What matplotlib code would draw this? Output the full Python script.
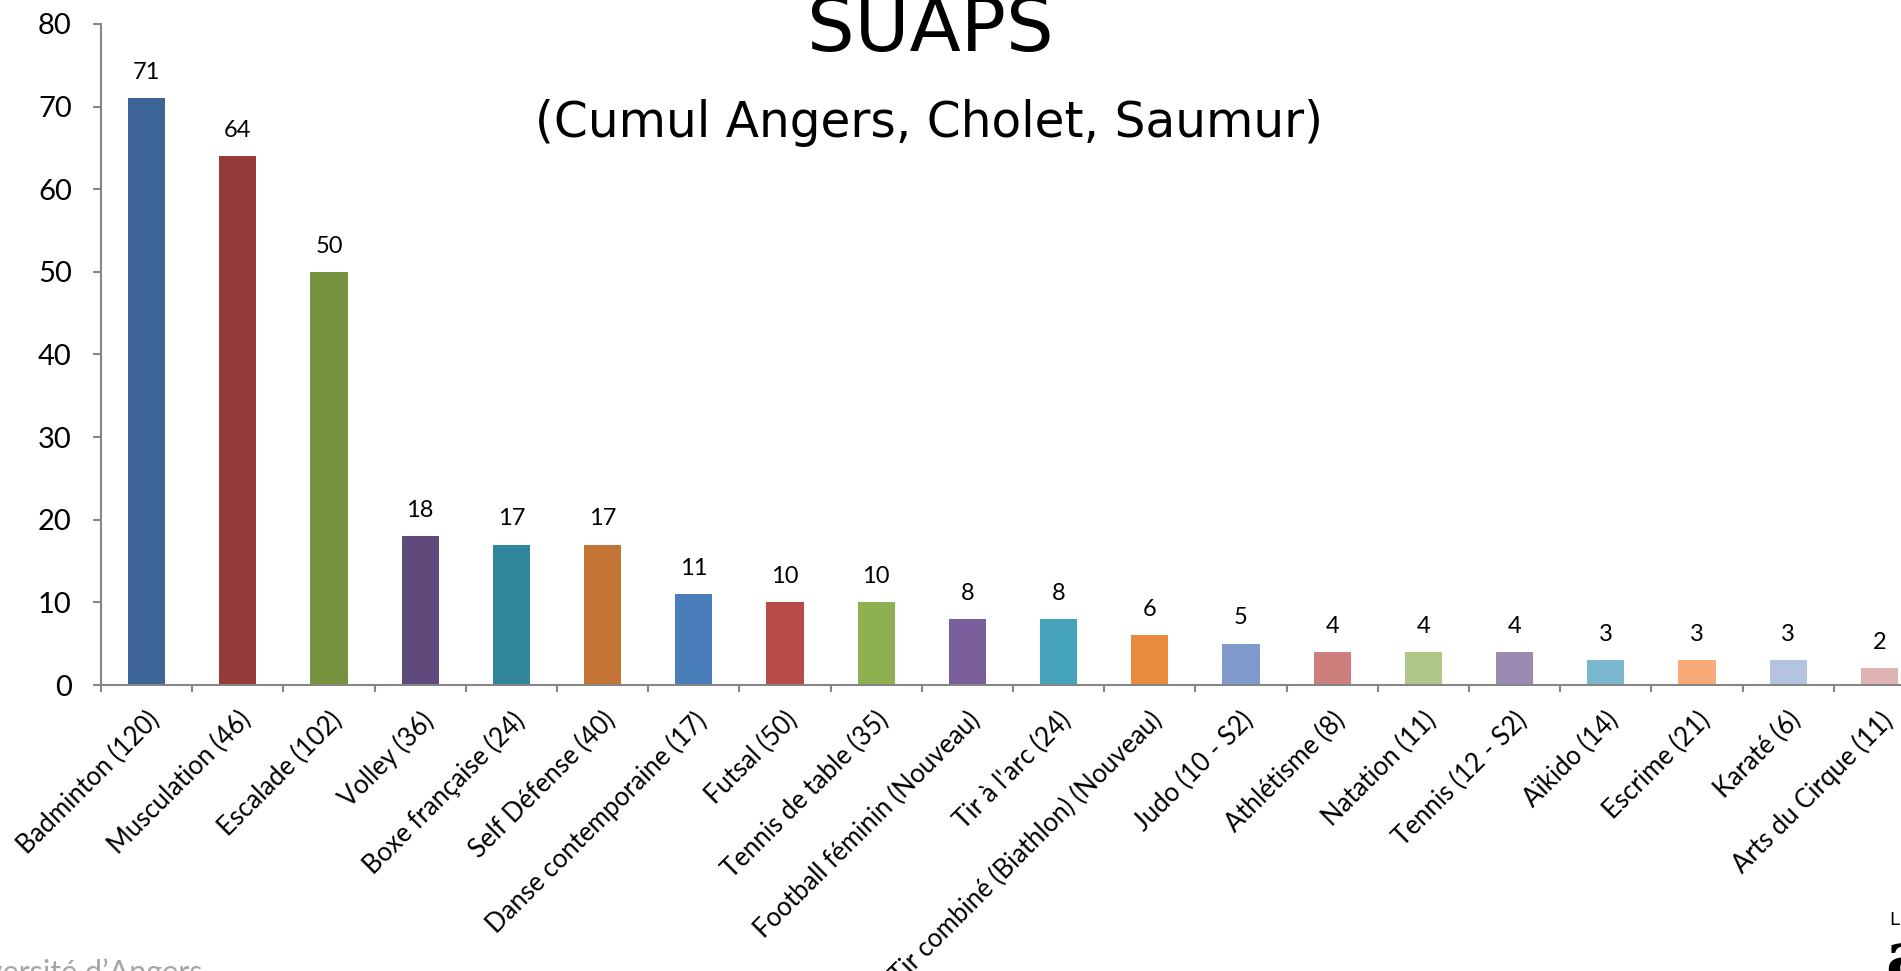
import matplotlib
matplotlib.use("Agg")
import matplotlib.pyplot as plt
import numpy as np

# activites et nombre d'inscrits (cumul des 3 sites)
activites = ["Badminton (120)", "Musculation (46)", "Escalade (102)", "Volley (36)",
             "Boxe française (24)", "Self Défense (40)", "Danse contemporaine (17)",
             "Futsal (50)", "Tennis de table (35)", "Football féminin (Nouveau)",
             "Tir à l'arc (24)", "Tir combiné (Biathlon) (Nouveau)", "Judo (10 - S2)",
             "Athlétisme (8)", "Natation (11)", "Tennis (12 - S2)", "Aïkido (14)",
             "Escrime (21)", "Karaté (6)", "Arts du Cirque (11)"]
inscrits = [71, 64, 50, 18, 17, 17, 11, 10, 10, 8, 8, 6, 5, 4, 4, 4, 3, 3, 3, 2]
couleurs = ["#3C6496", "#953B39", "#77923F", "#604A7B", "#31859C", "#C27535",
            "#4A7EBB", "#B84A47", "#8EB050", "#7A5E9C", "#46A3BC", "#E98B3D",
            "#7F9ACB", "#CD7F7D", "#AFC787", "#9B8AB2", "#7AB9CD", "#F8AA7A",
            "#B4C3DE", "#DEB4B4"]
yticks = [0, 10, 20, 30, 40, 50, 60, 70, 80]

W, H = 1901, 971
fig = plt.figure(figsize=(W / 100, H / 100), dpi=100)
# l'axe depasse a droite de l'image (coupe comme sur la capture)
ax = fig.add_axes([101 / W, 286 / H, 20 * 91.2 / W, 661 / H])

x = np.arange(len(activites))
ax.bar(x, inscrits, width=0.406, color=couleurs)
ax.set_xlim(-0.5, len(activites) - 0.5)
ax.set_ylim(0, 80)

gris = "#868686"
for s in ["top", "right"]:
    ax.spines[s].set_visible(False)
for s in ["left", "bottom"]:
    ax.spines[s].set_color(gris)
    ax.spines[s].set_linewidth(1.5)

ax.set_yticks(yticks)
ax.set_yticklabels([str(v) for v in yticks], fontsize=21, family="Lato")
ax.tick_params(axis="y", direction="out", length=6, width=1.5, color=gris, pad=15)

ax.set_xticks(x)
ax.set_xticklabels(activites, rotation=45, ha="right", rotation_mode="anchor",
                   fontsize=18.5, family="Lato")
ax.set_xticks(np.arange(len(activites) + 1) - 0.5, minor=True)
ax.tick_params(axis="x", which="major", length=0, pad=16)
ax.tick_params(axis="x", which="minor", direction="out", length=5, width=1.5, color=gris)

for xi, v in zip(x, inscrits):
    ax.annotate(str(v), (xi, v), xytext=(0, 11), textcoords="offset points",
                ha="center", va="bottom", fontsize=17, family="Lato")

fig.text(930 / W, 1 - 51 / H, "SUAPS", fontsize=54, ha="center", va="baseline")
fig.text(929 / W, 1 - 137 / H, "(Cumul Angers, Cholet, Saumur)", fontsize=35,
         ha="center", va="baseline")

# bas de page (coupe)
fig.text(203 / W, -11 / H, "Université d\u2019Angers", fontsize=22, color="#A6A6A6",
         ha="right", va="baseline", family="Lato")
fig.text(1889 / W, 1 - 925 / H, "L", fontsize=13, ha="left", va="baseline")
fig.text(1885 / W, -8 / H, "a", fontsize=48, weight="bold", family="DejaVu Serif",
         ha="left", va="baseline")

fig.savefig("out.png", dpi=100)
